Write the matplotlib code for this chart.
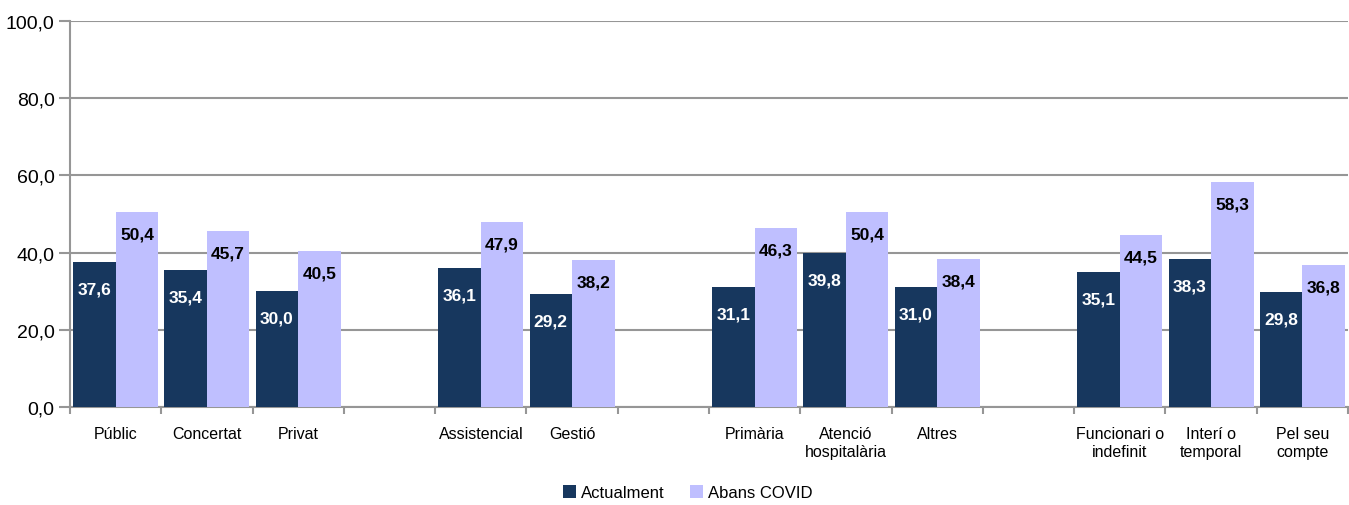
import numpy as np
import matplotlib.pyplot as plt
from matplotlib.ticker import FuncFormatter

plt.rcParams['font.family'] = ['Liberation Sans', 'DejaVu Sans']

# Categories (empty strings are the spacer slots between groups)
categories = ['Públic', 'Concertat', 'Privat', '',
              'Assistencial', 'Gestió', '',
              'Primària', 'Atenció\nhospitalària', 'Altres', '',
              'Funcionari o\nindefinit', 'Interí o\ntemporal', 'Pel seu\ncompte']
actualment = [37.6, 35.4, 30.0, None,
              36.1, 29.2, None,
              31.1, 39.8, 31.0, None,
              35.1, 38.3, 29.8]
abans_covid = [50.4, 45.7, 40.5, None,
               47.9, 38.2, None,
               46.3, 50.4, 38.4, None,
               44.5, 58.3, 36.8]
series_names = ['Actualment', 'Abans COVID']
y_ticks = [0, 20, 40, 60, 80, 100]

dark = '#17375E'
light = '#BFBFFF'
grid_col = '#969696'

fig = plt.figure(figsize=(13.49, 5.06), dpi=100)
ax = fig.add_axes([70 / 1349, 1 - 408 / 506, 1278 / 1349, 386 / 506])

n = len(categories)
x = np.arange(n)
bw = 0.465

def fmt(v):
    return f'{v:.1f}'.replace('.', ',')

for vals, off, col, txtcol, dy, name in [(actualment, -bw / 2, dark, 'white', -27, series_names[0]),
                                          (abans_covid, bw / 2, light, 'black', -22, series_names[1])]:
    xs = [xi + off for xi, v in zip(x, vals) if v is not None]
    vs = [v for v in vals if v is not None]
    ax.bar(xs, vs, width=bw, color=col, label=name, zorder=3)
    for xi, v in zip(xs, vs):
        ax.annotate(fmt(v), (xi, v), xytext=(0, dy), textcoords='offset pixels',
                    ha='center', va='center', color=txtcol, fontsize=12.5,
                    fontweight='bold', zorder=4)

ax.set_xlim(-0.5, n - 0.5)
ax.set_ylim(0, 100)
ax.set_yticks(y_ticks)
ax.yaxis.set_major_formatter(FuncFormatter(lambda v, p: fmt(v)))
ax.grid(axis='y', color=grid_col, linewidth=1.5, zorder=0)

# category labels centred, ticks on boundaries
ax.set_xticks(np.arange(-0.5, n, 1.0))
ax.set_xticklabels([])
ax.set_xticks(x, minor=True)
ax.set_xticklabels(categories, minor=True, fontsize=11.5, linespacing=1.25)
ax.tick_params(axis='x', which='minor', length=0, pad=14)
ax.tick_params(axis='x', which='major', length=5, width=1.5, color=grid_col)
ax.tick_params(axis='y', length=8, width=1.5, color=grid_col, labelsize=14, pad=3)

for s in ['top', 'right']:
    ax.spines[s].set_visible(False)
for s in ['left', 'bottom']:
    ax.spines[s].set_color(grid_col)
    ax.spines[s].set_linewidth(1.5)

fig.legend(loc='lower center', bbox_to_anchor=(0.51, -0.02), ncol=2, frameon=False,
           fontsize=12, handlelength=0.8, handleheight=0.8, handletextpad=0.3,
           columnspacing=1.5)

fig.savefig('out.png', dpi=100)
